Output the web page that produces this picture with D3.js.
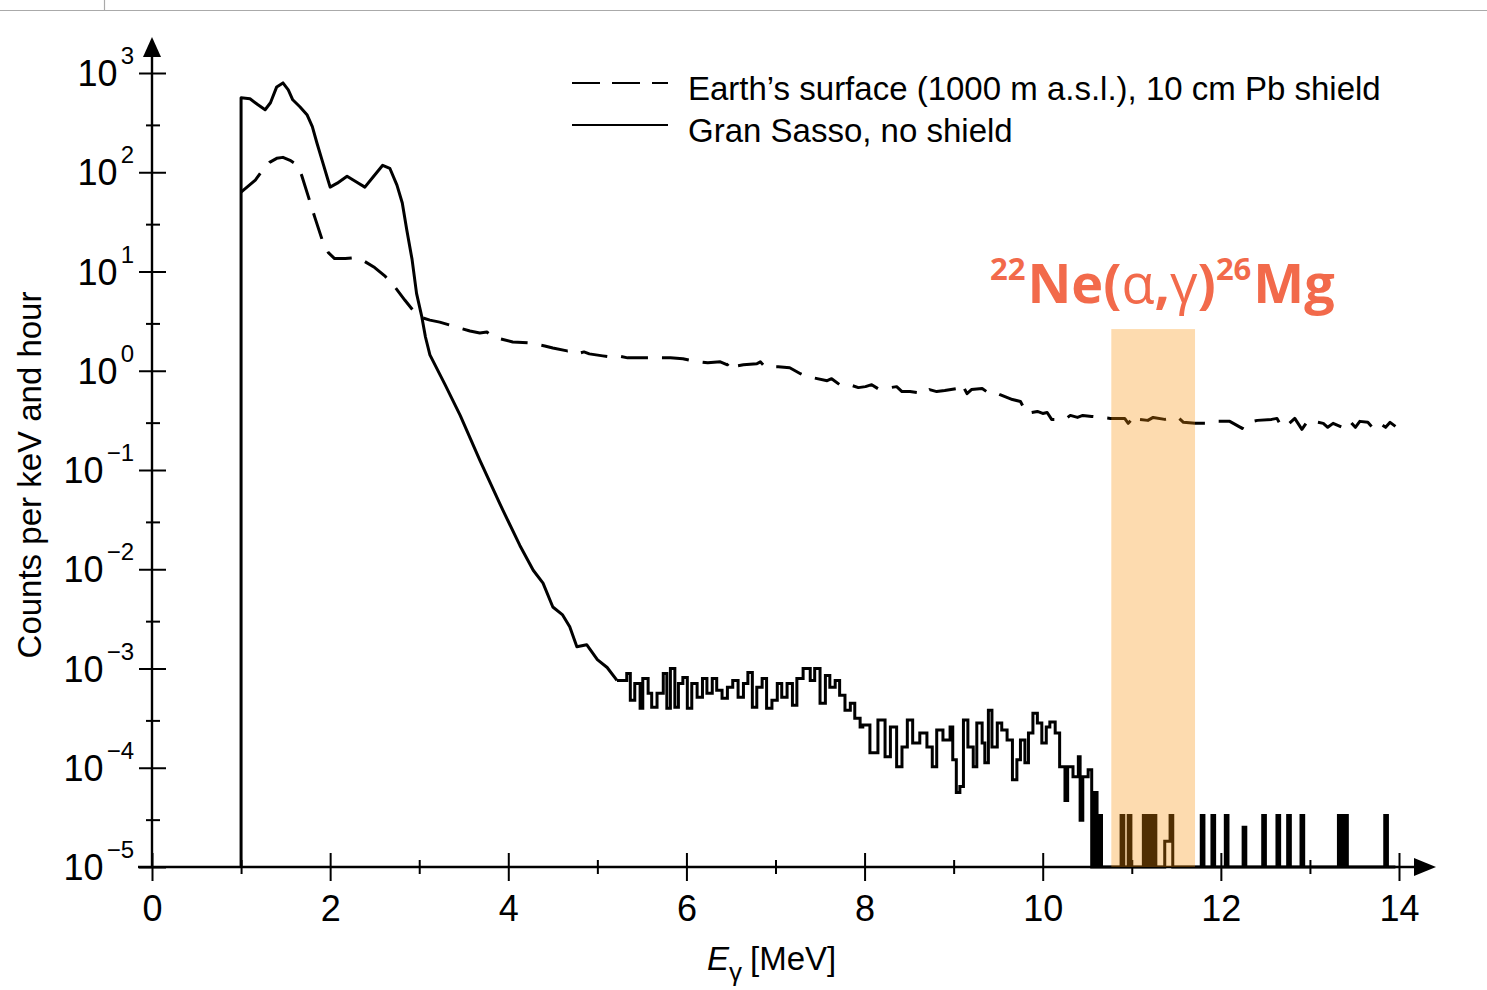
<!DOCTYPE html>
<html>
<head>
<meta charset="utf-8">
<script src="https://cdn.jsdelivr.net/npm/d3@7"></script>
<style>
  body { margin: 0; background: #fff; }
  text { font-family: "Liberation Sans", Arial, sans-serif; fill: #000; }
</style>
</head>
<body>
<div id="chart"></div>
<script>
// values are [E in MeV, log10(counts per keV and hour)]
const earthSurface = [
  [1.00,1.80],[1.08,1.86],[1.16,1.92],[1.24,2.02],[1.32,2.10],[1.40,2.14],[1.47,2.15],[1.55,2.12],
  [1.62,2.08],[1.68,1.97],[1.75,1.77],[1.83,1.54],[1.91,1.32],[1.98,1.19],[2.05,1.13],[2.17,1.13],
  [2.28,1.14],[2.39,1.10],[2.50,1.04],[2.62,0.95],[2.73,0.84],[2.84,0.71],[2.93,0.61],[3.01,0.54],
  [3.12,0.51],[3.23,0.49],[3.42,0.44],[3.57,0.40],[3.68,0.38],[3.76,0.39],[3.83,0.34],[4.05,0.29],
  [4.24,0.28],[4.41,0.25],[4.50,0.23],[4.66,0.20],[4.75,0.21],[4.81,0.18],[4.85,0.19],[4.91,0.17],
  [5.06,0.15],[5.14,0.14],[5.23,0.15],[5.34,0.13],[5.51,0.13],[5.82,0.13],[5.96,0.12],[6.07,0.10],
  [6.15,0.09],[6.24,0.08],[6.38,0.09],[6.46,0.06],[6.51,0.11],[6.57,0.05],[6.64,0.06],[6.79,0.07],
  [6.83,0.09],[6.88,0.04],[7.03,0.04],[7.16,0.03],[7.28,-0.03],[7.35,-0.06],[7.42,-0.07],[7.58,-0.10],
  [7.63,-0.08],[7.72,-0.14],[7.80,-0.13],[7.93,-0.17],[8.01,-0.16],[8.08,-0.14],[8.15,-0.18],[8.29,-0.17],
  [8.36,-0.16],[8.42,-0.21],[8.51,-0.21],[8.68,-0.23],[8.73,-0.19],[8.81,-0.21],[8.90,-0.20],[9.04,-0.18],
  [9.08,-0.23],[9.12,-0.18],[9.15,-0.23],[9.20,-0.19],[9.32,-0.18],[9.37,-0.21],[9.43,-0.20],[9.52,-0.24],
  [9.66,-0.29],[9.75,-0.31],[9.82,-0.43],[9.94,-0.41],[10.00,-0.43],[10.05,-0.42],[10.10,-0.49],[10.25,-0.49],
  [10.31,-0.45],[10.39,-0.47],[10.45,-0.45],[10.55,-0.46],[10.76,-0.48],[10.92,-0.48],[10.96,-0.53],[11.00,-0.49],
  [11.04,-0.53],[11.07,-0.49],[11.18,-0.50],[11.24,-0.47],[11.37,-0.49],[11.52,-0.47],[11.58,-0.52],[11.71,-0.53],
  [11.86,-0.53],[11.96,-0.51],[12.10,-0.51],[12.24,-0.58],[12.27,-0.53],[12.41,-0.50],[12.57,-0.49],[12.63,-0.48],
  [12.66,-0.53],[12.72,-0.57],[12.83,-0.48],[12.91,-0.59],[12.98,-0.50],[13.15,-0.53],[13.20,-0.57],[13.26,-0.53],
  [13.36,-0.57],[13.42,-0.56],[13.45,-0.51],[13.51,-0.57],[13.56,-0.51],[13.65,-0.52],[13.70,-0.57],[13.77,-0.52],
  [13.85,-0.57],[13.90,-0.52],[13.96,-0.56]
];

const granSassoSmooth = [
  [1.00,-5.00],[1.00,2.75],[1.10,2.74],[1.19,2.68],[1.27,2.63],[1.33,2.70],[1.40,2.86],[1.47,2.90],
  [1.53,2.83],[1.58,2.73],[1.66,2.66],[1.74,2.58],[1.80,2.46],[1.85,2.30],[1.91,2.12],[1.97,1.94],
  [2.00,1.85],[2.08,1.89],[2.19,1.96],[2.30,1.90],[2.39,1.85],[2.48,1.95],[2.59,2.07],[2.67,2.04],
  [2.75,1.87],[2.81,1.69],[2.86,1.42],[2.92,1.12],[2.97,0.78],[3.03,0.54],[3.07,0.34],[3.12,0.16],
  [3.29,-0.14],[3.46,-0.45],[3.68,-0.90],[3.91,-1.35],[4.13,-1.76],[4.28,-2.01],[4.39,-2.14],[4.50,-2.38],
  [4.61,-2.46],[4.69,-2.58],[4.77,-2.78],[4.88,-2.76],[5.00,-2.91],[5.11,-2.99],[5.22,-3.12]
];

// histogram part: each entry is the start of a bin
const granSassoSteps = [
  [5.22,-3.12],[5.33,-3.05],[5.37,-3.32],[5.42,-3.15],[5.48,-3.40],[5.51,-3.10],[5.57,-3.25],[5.61,-3.39],
  [5.67,-3.25],[5.74,-3.05],[5.78,-3.40],[5.82,-3.00],[5.87,-3.39],[5.91,-3.15],[5.96,-3.09],[6.01,-3.40],
  [6.06,-3.15],[6.12,-3.29],[6.18,-3.10],[6.23,-3.25],[6.29,-3.10],[6.34,-3.22],[6.40,-3.30],[6.46,-3.19],
  [6.52,-3.12],[6.58,-3.29],[6.64,-3.15],[6.69,-3.04],[6.74,-3.39],[6.79,-3.19],[6.85,-3.10],[6.90,-3.40],
  [6.96,-3.32],[7.02,-3.15],[7.07,-3.29],[7.13,-3.15],[7.19,-3.37],[7.24,-3.10],[7.31,-3.00],[7.39,-3.12],
  [7.44,-3.00],[7.50,-3.35],[7.56,-3.07],[7.61,-3.19],[7.67,-3.12],[7.72,-3.27],[7.78,-3.42],[7.84,-3.35],
  [7.89,-3.50],[7.95,-3.59],[7.98,-3.57],[8.06,-3.85],[8.15,-3.52],[8.23,-3.89],[8.29,-3.59],[8.36,-3.99],
  [8.42,-3.79],[8.48,-3.52],[8.54,-3.75],[8.62,-3.65],[8.70,-3.79],[8.76,-3.99],[8.81,-3.62],[8.88,-3.72],
  [8.96,-3.59],[8.99,-3.92],[9.03,-4.25],[9.07,-4.19],[9.11,-3.52],[9.16,-3.79],[9.22,-3.99],[9.26,-3.55],
  [9.32,-3.75],[9.35,-3.95],[9.39,-3.42],[9.43,-3.79],[9.49,-3.55],[9.54,-3.62],[9.60,-3.72],[9.66,-4.12],
  [9.71,-3.92],[9.75,-3.72],[9.80,-3.95],[9.84,-3.65],[9.89,-3.45],[9.94,-3.55],[9.99,-3.75],[10.04,-3.59],
  [10.08,-3.54],[10.14,-3.65],[10.19,-3.99],[10.25,-4.33],[10.28,-3.99],[10.34,-4.09],[10.40,-3.89],[10.42,-4.53],
  [10.45,-4.09],[10.51,-4.02],[10.55,-5],[10.58,-4.25],[10.61,-5],[10.63,-4.48],[10.66,-5],
  [10.88,-4.48],[10.91,-5],[10.96,-4.48],[10.99,-5],[11.13,-4.48],[11.16,-5],[11.17,-4.48],[11.20,-5],
  [11.22,-4.48],[11.24,-5],[11.25,-4.48],[11.27,-5],[11.37,-4.74],[11.43,-4.48],[11.46,-5],
  [11.78,-4.48],[11.81,-5],[11.90,-4.48],[11.93,-5],[12.05,-4.48],[12.08,-5],[12.25,-4.60],[12.28,-5],
  [12.47,-4.48],[12.50,-5],[12.63,-4.48],[12.66,-5],[12.75,-4.48],[12.78,-5],[12.90,-4.48],[12.93,-5],
  [13.32,-4.48],[13.35,-5],[13.36,-4.48],[13.38,-5],[13.39,-4.48],[13.42,-5],[13.84,-4.48],[13.87,-5],[13.96,-5]
];

const xMajor = [0, 2, 4, 6, 8, 10, 12, 14];
const xMinor = [1, 3, 5, 7, 9, 11, 13];
const yExponents = [3, 2, 1, 0, -1, -2, -3, -4, -5];
const yMinorExponents = [2, 1, 0, -1, -2, -3, -4, -5];
const legendLabels = ["Earth\u2019s surface (1000 m a.s.l.), 10 cm Pb shield", "Gran Sasso, no shield"];
const windowRange = [10.77, 11.71];   // MeV, highlighted region
const windowTop = 0.42;               // log10 of the top of the highlight

const width = 1487, height = 990;
const svg = d3.select("#chart").append("svg")
  .attr("width", width).attr("height", height);

const x = d3.scaleLinear().domain([0, 14]).range([152, 1399]);
const y = d3.scaleLog().domain([1e-5, 1e3]).range([867, 73]);
const yL = v => y(Math.pow(10, v));

// screenshot frame lines at the top
svg.append("line").attr("x1", 0).attr("x2", width).attr("y1", 10.5).attr("y2", 10.5)
  .attr("stroke", "#aaa").attr("stroke-width", 1.2);
svg.append("line").attr("x1", 104.5).attr("x2", 104.5).attr("y1", 0).attr("y2", 10)
  .attr("stroke", "#aaa").attr("stroke-width", 1.2);

// x axis
const gx = svg.append("g").attr("transform", `translate(0,${y(1e-5)})`);
gx.call(d3.axisBottom(x).tickValues(xMajor).tickSize(14).tickPadding(14).tickFormat(d => d));
gx.select(".domain").remove();
gx.selectAll(".tick line").attr("y1", -14).attr("stroke-width", 2);
gx.selectAll(".tick text").attr("font-size", 36).attr("font-family", "Liberation Sans, Arial, sans-serif").attr("dy", "0.72em");
const gxm = svg.append("g").attr("transform", `translate(0,${y(1e-5)})`);
gxm.call(d3.axisBottom(x).tickValues(xMinor).tickSize(7).tickFormat(""));
gxm.select(".domain").remove();
gxm.selectAll(".tick line").attr("y1", -7).attr("stroke-width", 2);
svg.append("line").attr("x1", 138).attr("x2", 1420).attr("y1", y(1e-5)).attr("y2", y(1e-5))
  .attr("stroke", "#000").attr("stroke-width", 2.4);
svg.append("path").attr("d", `M1436,${y(1e-5)} L1414,${y(1e-5) - 9} L1414,${y(1e-5) + 9} Z`).attr("fill", "#000");

// y axis
const gy = svg.append("g").attr("transform", `translate(${x(0)},0)`);
gy.call(d3.axisLeft(y).tickValues(yExponents.map(e => Math.pow(10, e))).tickSize(13).tickFormat(""));
gy.select(".domain").remove();
gy.selectAll(".tick line").attr("x2", 14).attr("x1", -13).attr("stroke-width", 2);
const gym = svg.append("g").attr("transform", `translate(${x(0)},0)`);
gym.call(d3.axisLeft(y).tickValues(yMinorExponents.map(e => 3 * Math.pow(10, e))).tickSize(6).tickFormat(""));
gym.select(".domain").remove();
gym.selectAll(".tick line").attr("x1", -6).attr("x2", 8).attr("stroke-width", 2);
svg.append("line").attr("x1", x(0)).attr("x2", x(0)).attr("y1", y(1e-5)).attr("y2", 52)
  .attr("stroke", "#000").attr("stroke-width", 2.4);
svg.append("path").attr("d", `M${x(0)},37 L${x(0) - 9},57 L${x(0) + 9},57 Z`).attr("fill", "#000");

// y tick labels 10^n
yExponents.forEach(e => {
  const t = svg.append("text")
    .attr("x", 134).attr("y", y(Math.pow(10, e)) + 13)
    .attr("text-anchor", "end").attr("font-size", 36);
  t.append("tspan").text("10");
  t.append("tspan").attr("dx", 3).attr("dy", -22).attr("font-size", 24)
    .text(e < 0 ? "\u2212" + (-e) : String(e));
});

// axis titles
svg.append("text")
  .attr("transform", "translate(41,475) rotate(-90)")
  .attr("text-anchor", "middle").attr("font-size", 33)
  .text("Counts per keV and hour");
const xt = svg.append("text").attr("x", 707).attr("y", 970).attr("font-size", 33);
xt.append("tspan").attr("font-style", "italic").text("E");
xt.append("tspan").attr("font-size", 26).attr("dy", 11).text("\u03b3");
xt.append("tspan").attr("dy", -11).attr("dx", 8).text("[MeV]");

// curves
const line = d3.line().x(d => x(d[0])).y(d => yL(d[1]));
const stepLine = d3.line().x(d => x(d[0])).y(d => yL(d[1])).curve(d3.curveStepAfter);

svg.append("path").datum(earthSurface)
  .attr("d", line).attr("fill", "none").attr("stroke", "#000")
  .attr("stroke-width", 3).attr("stroke-dasharray", "27,14").attr("stroke-linejoin", "round");

svg.append("path").datum(granSassoSmooth)
  .attr("d", line).attr("fill", "none").attr("stroke", "#000")
  .attr("stroke-width", 3).attr("stroke-linejoin", "round");
svg.append("path").datum(granSassoSteps)
  .attr("d", stepLine).attr("fill", "none").attr("stroke", "#000")
  .attr("stroke-width", 3);

// legend
const legend = svg.append("g");
legendLabels.forEach((lab, i) => {
  const ly = 83 + i * 42;
  legend.append("line").attr("x1", 572).attr("x2", 668).attr("y1", ly).attr("y2", ly)
    .attr("stroke", "#000").attr("stroke-width", 2.2)
    .attr("stroke-dasharray", i === 0 ? "28,12" : null);
  legend.append("text").attr("x", 688).attr("y", ly + 17).attr("font-size", 33).text(lab);
});

// highlighted window
svg.append("rect")
  .attr("x", x(windowRange[0])).attr("width", x(windowRange[1]) - x(windowRange[0]))
  .attr("y", yL(windowTop)).attr("height", y(1e-5) - yL(windowTop))
  .attr("fill", "#f98e05").attr("fill-opacity", 0.32);

const ann = svg.append("text").attr("x", 990).attr("y", 303)
  .attr("font-size", 54).attr("font-weight", "bold")
  .style("font-family", "'Open Sans', 'Noto Sans', sans-serif").style("fill", "#f26a4b");
ann.append("tspan").attr("font-size", 31).attr("dy", -23).text("22");
ann.append("tspan").attr("dy", 23).attr("dx", 2).text("Ne(");
ann.append("tspan").attr("font-weight", "normal").text("\u03b1");
ann.append("tspan").text(",");
ann.append("tspan").attr("font-weight", "normal").text("\u03b3");
ann.append("tspan").text(")");
ann.append("tspan").attr("font-size", 31).attr("dy", -23).text("26");
ann.append("tspan").attr("dy", 23).attr("dx", 2).text("Mg");
</script>
</body>
</html>
